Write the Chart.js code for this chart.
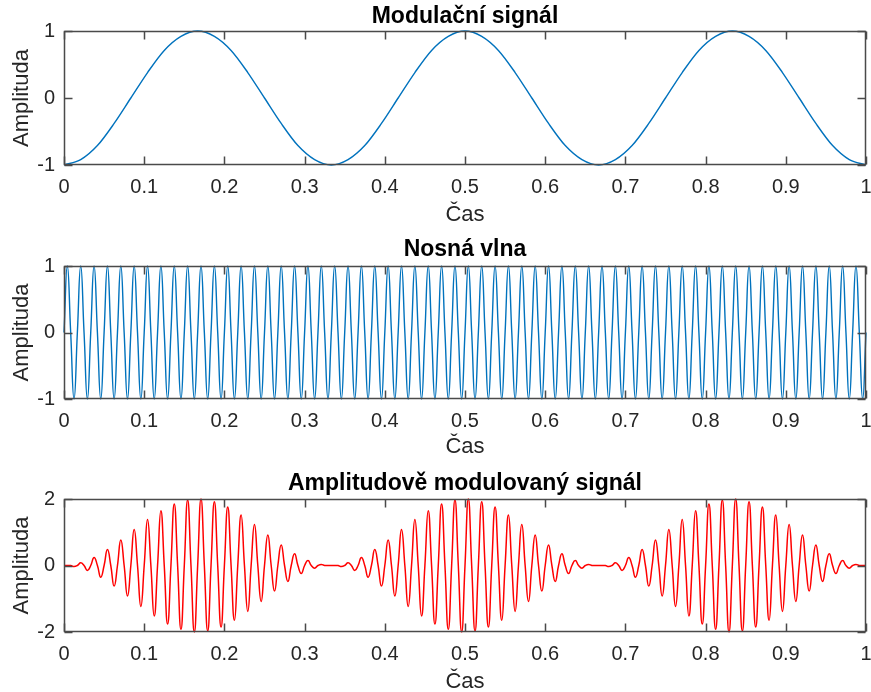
<!DOCTYPE html>
<html>
<head>
<meta charset="utf-8">
<script src="https://cdn.jsdelivr.net/npm/chart.js@4/dist/chart.umd.min.js"></script>
<style>
  html, body { margin: 0; padding: 0; background: #fff; overflow: hidden; width: 871px; height: 692px; }
  canvas { position: absolute; left: 0; }
</style>
</head>
<body>
<canvas id="c1" width="871" height="233" style="top:0px"></canvas>
<canvas id="c2" width="871" height="233" style="top:233px"></canvas>
<canvas id="c3" width="871" height="233" style="top:466px"></canvas>
<script>
/* ── Data ── */
const titles = ['Modulační signál', 'Nosná vlna', 'Amplitudově modulovaný signál'];
const xLabel = 'Čas';
const yLabel = 'Amplituda';
const xTicks = [0, 0.1, 0.2, 0.3, 0.4, 0.5, 0.6, 0.7, 0.8, 0.9, 1];
const yTicksUnit = [-1, 0, 1];
const yTicksAm = [-2, 0, 2];

// sample spacing of each trace (time axis)
const modStep = 1 / 48;
const carrierStep = 1 / 240;
const amStep = 1 / 240;

// modulating signal, read every 1/48 s
const modValues = [
  -1, -0.92, -0.71, -0.38, 0, 0.38, 0.71, 0.92, 1, 0.92, 0.71, 0.38, 0, -0.38, -0.71, -0.92,
  -1, -0.92, -0.71, -0.38, 0, 0.38, 0.71, 0.92, 1, 0.92, 0.71, 0.38, 0, -0.38, -0.71, -0.92,
  -1, -0.92, -0.71, -0.38, 0, 0.38, 0.71, 0.92, 1, 0.92, 0.71, 0.38, 0, -0.38, -0.71, -0.92,
  -1
];

// carrier, zero crossings and peaks
const carrierValues = [
  0, 1, 0, -1, 0, 1, 0, -1, 0, 1, 0, -1, 0, 1, 0, -1, 0, 1, 0, -1, 0, 1, 0, -1, 0, 1, 0, -1, 0, 1, 0, -1,
  0, 1, 0, -1, 0, 1, 0, -1, 0, 1, 0, -1, 0, 1, 0, -1, 0, 1, 0, -1, 0, 1, 0, -1, 0, 1, 0, -1, 0, 1, 0, -1,
  0, 1, 0, -1, 0, 1, 0, -1, 0, 1, 0, -1, 0, 1, 0, -1, 0, 1, 0, -1, 0, 1, 0, -1, 0, 1, 0, -1, 0, 1, 0, -1,
  0, 1, 0, -1, 0, 1, 0, -1, 0, 1, 0, -1, 0, 1, 0, -1, 0, 1, 0, -1, 0, 1, 0, -1, 0, 1, 0, -1, 0, 1, 0, -1,
  0, 1, 0, -1, 0, 1, 0, -1, 0, 1, 0, -1, 0, 1, 0, -1, 0, 1, 0, -1, 0, 1, 0, -1, 0, 1, 0, -1, 0, 1, 0, -1,
  0, 1, 0, -1, 0, 1, 0, -1, 0, 1, 0, -1, 0, 1, 0, -1, 0, 1, 0, -1, 0, 1, 0, -1, 0, 1, 0, -1, 0, 1, 0, -1,
  0, 1, 0, -1, 0, 1, 0, -1, 0, 1, 0, -1, 0, 1, 0, -1, 0, 1, 0, -1, 0, 1, 0, -1, 0, 1, 0, -1, 0, 1, 0, -1,
  0, 1, 0, -1, 0, 1, 0, -1, 0, 1, 0, -1, 0, 1, 0, -1,
  0
];

// AM signal, zero crossings and signed peaks
const amValues = [
  0, 0.00, 0, -0.03, 0, 0.08, 0, -0.15, 0, 0.24, 0, -0.35, 0, 0.48, 0, -0.62, 0, 0.77, 0, -0.92,
  0, 1.08, 0, -1.23, 0, 1.38, 0, -1.52, 0, 1.65, 0, -1.76, 0, 1.85, 0, -1.92, 0, 1.97, 0, -2.00,
  0, 2.00, 0, -1.97, 0, 1.92, 0, -1.85, 0, 1.76, 0, -1.65, 0, 1.52, 0, -1.38, 0, 1.23, 0, -1.08,
  0, 0.92, 0, -0.77, 0, 0.62, 0, -0.48, 0, 0.35, 0, -0.24, 0, 0.15, 0, -0.08, 0, 0.03, 0, -0.00,
  0, 0.00, 0, -0.03, 0, 0.08, 0, -0.15, 0, 0.24, 0, -0.35, 0, 0.48, 0, -0.62, 0, 0.77, 0, -0.92,
  0, 1.08, 0, -1.23, 0, 1.38, 0, -1.52, 0, 1.65, 0, -1.76, 0, 1.85, 0, -1.92, 0, 1.97, 0, -2.00,
  0, 2.00, 0, -1.97, 0, 1.92, 0, -1.85, 0, 1.76, 0, -1.65, 0, 1.52, 0, -1.38, 0, 1.23, 0, -1.08,
  0, 0.92, 0, -0.77, 0, 0.62, 0, -0.48, 0, 0.35, 0, -0.24, 0, 0.15, 0, -0.08, 0, 0.03, 0, -0.00,
  0, 0.00, 0, -0.03, 0, 0.08, 0, -0.15, 0, 0.24, 0, -0.35, 0, 0.48, 0, -0.62, 0, 0.77, 0, -0.92,
  0, 1.08, 0, -1.23, 0, 1.38, 0, -1.52, 0, 1.65, 0, -1.76, 0, 1.85, 0, -1.92, 0, 1.97, 0, -2.00,
  0, 2.00, 0, -1.97, 0, 1.92, 0, -1.85, 0, 1.76, 0, -1.65, 0, 1.52, 0, -1.38, 0, 1.23, 0, -1.08,
  0, 0.92, 0, -0.77, 0, 0.62, 0, -0.48, 0, 0.35, 0, -0.24, 0, 0.15, 0, -0.08, 0, 0.03, 0, -0.00,
  0
];

/* ── Style ── */
const FONT = "'Liberation Sans', Arial, Helvetica, sans-serif";
const AXIS = '#262626';
const BOX = '#4a4a4a';
const BLUE = '#0072bd';
const RED = '#ff0000';

/* MATLAB-like box with inward ticks on all four sides */
const boxPlugin = {
  id: 'matlabBox',
  afterDatasetsDraw(chart) {
    const { ctx, chartArea: a, scales: { x, y } } = chart;
    const L = Math.round(a.left) + 0.5, R = Math.round(a.right) - 0.5;
    const T = Math.round(a.top) + 0.5, B = Math.round(a.bottom) - 0.5;
    const len = 8;
    ctx.save();
    ctx.strokeStyle = BOX;
    ctx.lineWidth = 1.5;
    ctx.strokeRect(L, T, R - L, B - T);
    ctx.beginPath();
    x.ticks.forEach(t => {
      const px = Math.round(x.getPixelForValue(t.value)) + 0.5;
      ctx.moveTo(px, B); ctx.lineTo(px, B - len);
      ctx.moveTo(px, T); ctx.lineTo(px, T + len);
    });
    y.ticks.forEach(t => {
      const py = Math.round(y.getPixelForValue(t.value)) + 0.5;
      ctx.moveTo(L, py); ctx.lineTo(L + len, py);
      ctx.moveTo(R, py); ctx.lineTo(R - len, py);
    });
    ctx.stroke();
    ctx.restore();
  },
};

const fmt = v => String(+Number(v).toFixed(1));

function makeAxes(id, o) {
  new Chart(document.getElementById(id).getContext('2d'), {
    type: 'line',
    data: {
      datasets: [{
        data: o.values.map((v, i) => ({ x: i * o.step, y: v })),
        borderColor: o.color,
        borderWidth: o.lw,
        pointRadius: 0,
        fill: false,
        tension: 0.5,
        cubicInterpolationMode: o.mode,
        clip: false,
      }],
    },
    options: {
      responsive: false,
      animation: false,
      events: [],
      layout: { padding: { left: 0, right: 5, top: 0, bottom: 0 } },
      plugins: {
        legend: { display: false },
        tooltip: { enabled: false },
        title: {
          display: true,
          text: o.title,
          fullSize: false,
          color: '#000',
          font: { family: FONT, size: 23, weight: 'bold', lineHeight: 1 },
          padding: { top: o.titlePad[0], bottom: o.titlePad[1] },
        },
      },
      scales: {
        x: {
          type: 'linear',
          min: 0,
          max: 1,
          afterBuildTicks: s => { s.ticks = xTicks.map(v => ({ value: v })); },
          ticks: { color: AXIS, font: { family: FONT, size: 20 }, padding: 10, maxRotation: 0, autoSkip: false, callback: fmt },
          grid: { display: false, drawTicks: false },
          border: { display: false },
          title: {
            display: true, text: xLabel, color: AXIS,
            font: { family: FONT, size: 22, lineHeight: 1 },
            padding: { top: 0, bottom: o.xPad },
          },
          afterFit: s => { s.height = o.xH; s.paddingLeft = 0; s.paddingRight = 0; },
        },
        y: {
          type: 'linear',
          min: o.yTicks[0],
          max: o.yTicks[o.yTicks.length - 1],
          afterBuildTicks: s => { s.ticks = o.yTicks.map(v => ({ value: v })); },
          ticks: { color: AXIS, font: { family: FONT, size: 20 }, padding: 9, callback: fmt },
          grid: { display: false, drawTicks: false },
          border: { display: false },
          title: {
            display: true, text: yLabel, color: AXIS,
            font: { family: FONT, size: 22, lineHeight: 1 },
            padding: { top: 11, bottom: 0 },
          },
          afterFit: s => { s.width = 64; s.paddingTop = 0; s.paddingBottom = 0; },
        },
      },
    },
    plugins: [boxPlugin],
  });
}

makeAxes('c1', { title: titles[0], values: modValues, step: modStep, color: BLUE, lw: 1.4, mode: 'monotone', yTicks: yTicksUnit, titlePad: [5, 3], xH: 68, xPad: 7 });
makeAxes('c2', { title: titles[1], values: carrierValues, step: carrierStep, color: BLUE, lw: 1.4, mode: 'default', yTicks: yTicksUnit, titlePad: [5, 5], xH: 67, xPad: 8 });
makeAxes('c3', { title: titles[2], values: amValues, step: amStep, color: RED, lw: 1.5, mode: 'default', yTicks: yTicksAm, titlePad: [6, 4], xH: 67, xPad: 6 });
</script>
</body>
</html>
